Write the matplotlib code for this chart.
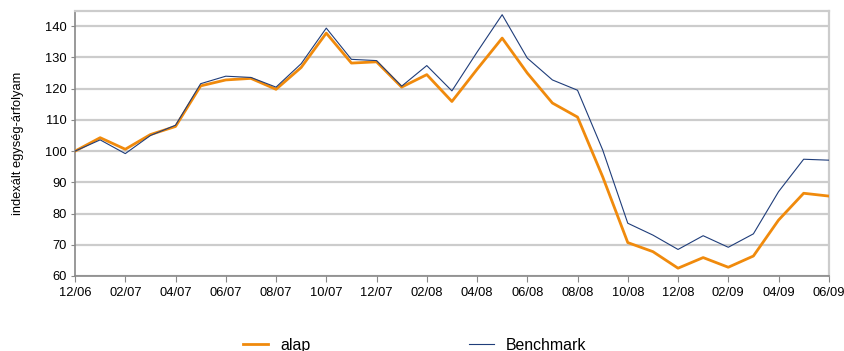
import matplotlib.pyplot as plt

plt.rcParams['font.family'] = ['Liberation Sans', 'DejaVu Sans']

# Monthly data, 12/06 .. 06/09
months = ['12/06', '01/07', '02/07', '03/07', '04/07', '05/07', '06/07', '07/07',
          '08/07', '09/07', '10/07', '11/07', '12/07', '01/08', '02/08', '03/08',
          '04/08', '05/08', '06/08', '07/08', '08/08', '09/08', '10/08', '11/08',
          '12/08', '01/09', '02/09', '03/09', '04/09', '05/09', '06/09']

alap = [100, 104.3, 100.6, 105.3, 107.9, 120.9, 122.8, 123.3, 119.8, 126.8,
        137.8, 128.2, 128.6, 120.5, 124.5, 115.9, 126.2, 136.2, 125.0, 115.4,
        110.9, 91.8, 70.7, 67.8, 62.5, 65.9, 62.8, 66.4, 77.9, 86.5, 85.6]

benchmark = [100, 103.6, 99.2, 105.0, 108.3, 121.6, 124.0, 123.6, 120.5, 128.0,
             139.4, 129.4, 129.0, 120.8, 127.4, 119.3, 131.7, 143.7, 129.8, 122.8,
             119.5, 100.4, 76.9, 73.1, 68.5, 72.9, 69.2, 73.5, 87.0, 97.4, 97.1]

x = list(range(len(months)))

fig = plt.figure(figsize=(8.45, 3.51), dpi=100)
ax = fig.add_axes([0.0888, 0.2137, 0.892, 0.756])

ax.plot(x, alap, color='#f08a0c', lw=2.0, label='alap', zorder=3)
ax.plot(x, benchmark, color='#1f3d7a', lw=0.8, label='Benchmark', zorder=4)

ax.set_xlim(0, len(months) - 1)
ax.set_ylim(60, 145)
ax.set_yticks(range(60, 141, 10))
ax.set_xticks(x[::2])
ax.set_xticklabels(months[::2], fontsize=9.3)
ax.tick_params(axis='y', labelsize=9.3, length=3, color='#888888', pad=3)
ax.tick_params(axis='x', length=4, color='#888888', pad=4)

ax.grid(axis='y', color='#cccccc', lw=1.6, zorder=0)
ax.set_axisbelow(True)
for side in ['left', 'bottom']:
    ax.spines[side].set_color('#888888')
    ax.spines[side].set_linewidth(1.2)
for side in ['top', 'right']:
    ax.spines[side].set_color('#cccccc')
    ax.spines[side].set_linewidth(1.6)

ax.set_ylabel('indexált egység-árfolyam', fontsize=9.3, labelpad=15)

fig.legend(loc='center', bbox_to_anchor=(0.4905, 0.017), ncol=2,
           frameon=False, fontsize=11.4, columnspacing=10, handlelength=1.6,
           handletextpad=0.76, borderpad=0, borderaxespad=0)

fig.savefig('out.png', dpi=100)
